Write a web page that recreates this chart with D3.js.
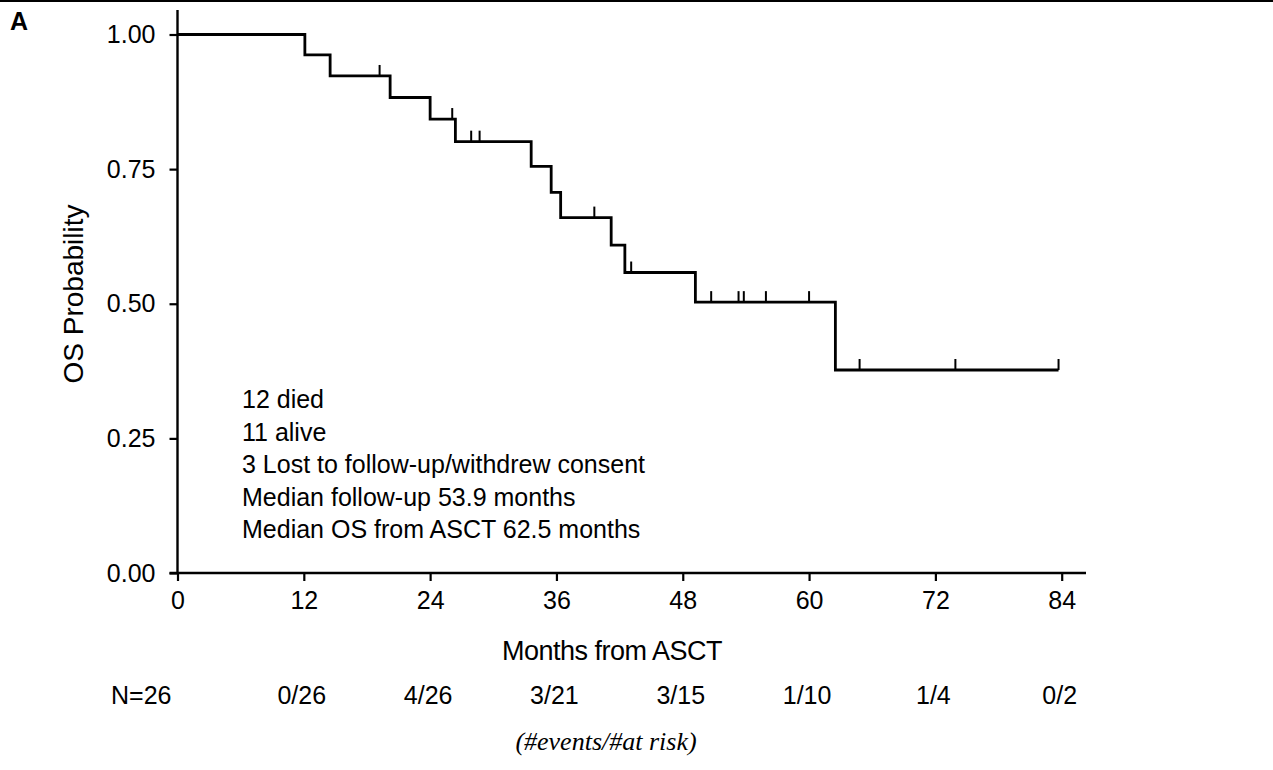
<!DOCTYPE html>
<html><head><meta charset="utf-8">
<script src="https://cdn.jsdelivr.net/npm/d3@7/dist/d3.min.js"></script>
<style>
html,body{margin:0;padding:0;background:#fff;}
svg text{font-family:"Liberation Sans",Arial,sans-serif;fill:#000;}
</style></head>
<body><svg id="c" width="1273" height="770"></svg>
<script>
// Kaplan-Meier step data (months from ASCT, OS probability after each death)
const eventTimes = [12.1, 14.5, 20.2, 24.0, 26.4, 33.6, 35.5, 36.4, 41.2, 42.5, 49.2, 62.5];
const survival   = [0.962, 0.923, 0.883, 0.843, 0.801, 0.755, 0.707, 0.660, 0.609, 0.558, 0.503, 0.377];
const censorTimes = [19.2, 26.1, 27.9, 28.7, 39.6, 43.1, 50.7, 53.3, 53.8, 55.9, 60.0, 64.8, 73.9, 83.7];
const lastFollowUp = 83.7;
const xTicks = [0, 12, 24, 36, 48, 60, 72, 84];
const yTicks = [0, 0.25, 0.5, 0.75, 1.0];
const riskLabels = ["0/26", "4/26", "3/21", "3/15", "1/10", "1/4", "0/2"];
const riskMonths = [12, 24, 36, 48, 60, 72, 84];
const annotations = ["12 died", "11 alive", "3 Lost to follow-up/withdrew consent",
  "Median follow-up 53.9 months", "Median OS from ASCT 62.5 months"];

const svg = d3.select("#c");
const x = d3.scaleLinear().domain([0, 84]).range([177.5, 1061.7]);
const y = d3.scaleLinear().domain([0, 1]).range([573, 34.5]);

// top border + panel letter
svg.append("line").attr("x1",0).attr("x2",1273).attr("y1",1).attr("y2",1).attr("stroke","#000").attr("stroke-width",2);
svg.append("text").attr("x",10).attr("y",30).attr("font-size",25).attr("font-weight","bold").text("A");

// axes
const yAxis = d3.axisLeft(y).tickValues(yTicks).tickFormat(d3.format(".2f")).tickSize(8).tickPadding(14);
const gy = svg.append("g").attr("transform",`translate(${x(0)},0)`).call(yAxis);
gy.select(".domain").remove();
gy.selectAll(".tick line").attr("stroke","#000").attr("stroke-width",2.2);
gy.selectAll(".tick text").attr("font-size",25).attr("font-family","Liberation Sans, Arial").attr("fill","#000");
svg.append("line").attr("x1",x(0)).attr("x2",x(0)).attr("y1",10).attr("y2",y(0)+1).attr("stroke","#000").attr("stroke-width",2.4);

const xAxis = d3.axisBottom(x).tickValues(xTicks).tickFormat(d3.format("d")).tickSize(8).tickPadding(10);
const gx = svg.append("g").attr("transform",`translate(0,${y(0)})`).call(xAxis);
gx.select(".domain").remove();
gx.selectAll(".tick line").attr("stroke","#000").attr("stroke-width",2.2);
gx.selectAll(".tick text").attr("font-size",25).attr("font-family","Liberation Sans, Arial").attr("fill","#000");
svg.append("line").attr("x1",x(0)-8).attr("x2",1086).attr("y1",y(0)).attr("y2",y(0)).attr("stroke","#000").attr("stroke-width",2.4);

// KM curve
const pts = [[0,1]];
let s = 1;
eventTimes.forEach((t,i)=>{ pts.push([t,s]); s = survival[i]; pts.push([t,s]); });
pts.push([lastFollowUp, s]);
svg.append("path").datum(pts)
  .attr("d", d3.line().x(d=>x(d[0])).y(d=>y(d[1])))
  .attr("fill","none").attr("stroke","#000").attr("stroke-width",2.8);

function survAt(t){ let v=1; eventTimes.forEach((e,i)=>{ if(e<=t) v=survival[i]; }); return v; }
svg.selectAll(".cens").data(censorTimes).join("line")
  .attr("x1",d=>x(d)).attr("x2",d=>x(d))
  .attr("y1",d=>y(survAt(d))).attr("y2",d=>y(survAt(d))-11)
  .attr("stroke","#000").attr("stroke-width",2);

// axis titles
svg.append("text").attr("x",612).attr("y",660).attr("text-anchor","middle").attr("font-size",27).attr("letter-spacing",-0.5).text("Months from ASCT");
svg.append("text").attr("transform","translate(83,294) rotate(-90)").attr("text-anchor","middle").attr("font-size",28).text("OS Probability");

// annotations
svg.selectAll(".ann").data(annotations).join("text")
  .attr("x",242).attr("y",(d,i)=>408 + i*32.5).attr("font-size",25).text(d=>d);

// risk table
svg.append("text").attr("x",x(0)-6).attr("y",704).attr("text-anchor","end").attr("font-size",25).text("N=26");
svg.selectAll(".risk").data(riskLabels).join("text")
  .attr("x",(d,i)=>x(riskMonths[i])-2).attr("y",704).attr("text-anchor","middle").attr("font-size",25).text(d=>d);
svg.append("text").attr("x",606).attr("y",750).attr("text-anchor","middle").attr("font-size",26)
  .attr("font-style","italic").style("font-family","'Liberation Serif', 'Times New Roman', serif").text("(#events/#at risk)");
</script></body></html>
